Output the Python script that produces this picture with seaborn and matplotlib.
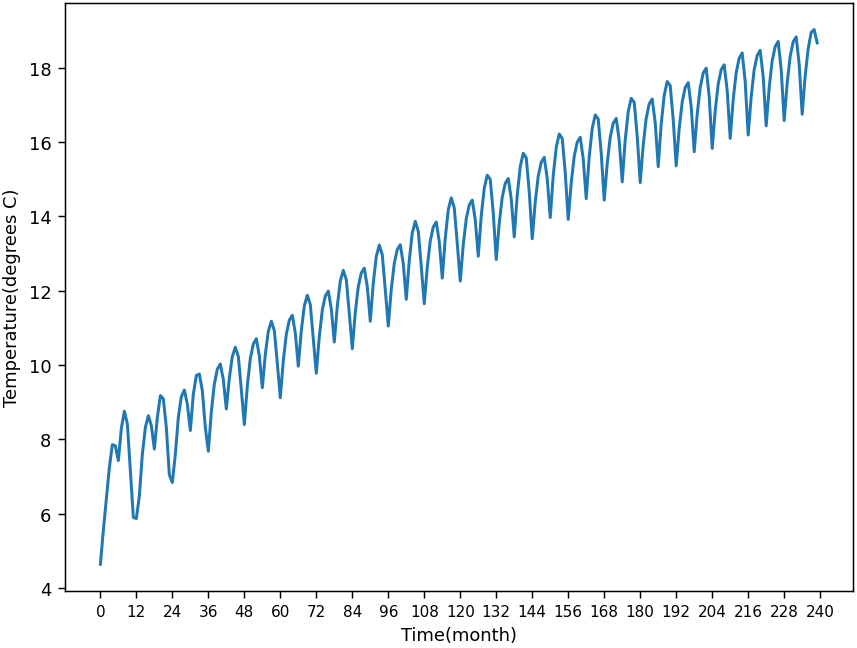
import numpy as np
import pandas as pd
import matplotlib
matplotlib.use("Agg")
import matplotlib.pyplot as plt
import seaborn as sns

# Monthly temperature readings (degrees C), split into 5-year blocks
temp_years_01_05 = [4.64, 5.56, 6.40, 7.24, 7.86, 7.83, 7.43, 8.30, 8.76, 8.42, 7.16, 5.90, 5.87,
                    6.48, 7.60, 8.32, 8.64, 8.37, 7.74, 8.59, 9.18, 9.09, 8.32, 7.05, 6.84,
                    7.60, 8.60, 9.15, 9.33, 8.95, 8.24, 9.22, 9.72, 9.76, 9.31, 8.32, 7.68,
                    8.74, 9.49, 9.89, 10.03, 9.61, 8.82, 9.65, 10.23, 10.48, 10.23, 9.34, 8.40,
                    9.44, 10.18, 10.57, 10.71, 10.25, 9.39, 10.29, 10.91, 11.18, 10.93, 10.05]
temp_years_06_10 = [9.12,
                    10.12, 10.83, 11.21, 11.34, 10.86, 9.97, 10.93, 11.59, 11.88, 11.63, 10.72, 9.78,
                    10.77, 11.48, 11.86, 11.99, 11.51, 10.62, 11.59, 12.26, 12.55, 12.30, 11.39, 10.44,
                    11.42, 12.11, 12.48, 12.61, 12.11, 11.18, 12.21, 12.92, 13.23, 12.97, 12.03, 11.05,
                    12.04, 12.74, 13.11, 13.24, 12.73, 11.77, 12.82, 13.56, 13.87, 13.60, 12.65, 11.65,
                    12.64, 13.34, 13.72, 13.85, 13.32, 12.34, 13.42, 14.18, 14.50, 14.23, 13.27]
temp_years_11_15 = [12.26,
                    13.24, 13.94, 14.31, 14.44, 13.91, 12.93, 14.02, 14.76, 15.11, 15.00, 14.09, 12.84,
                    13.82, 14.52, 14.89, 15.02, 14.47, 13.45, 14.58, 15.34, 15.70, 15.58, 14.66, 13.40,
                    14.39, 15.09, 15.46, 15.59, 15.02, 13.97, 15.10, 15.86, 16.22, 16.10, 15.18, 13.92,
                    14.91, 15.62, 16.00, 16.13, 15.55, 14.48, 15.61, 16.37, 16.73, 16.62, 15.70, 14.44,
                    15.43, 16.13, 16.51, 16.64, 16.04, 14.93, 16.06, 16.82, 17.18, 17.07, 16.16]
temp_years_16_20 = [14.91,
                    15.92, 16.64, 17.03, 17.16, 16.52, 15.34, 16.49, 17.26, 17.63, 17.52, 16.61, 15.36,
                    16.37, 17.08, 17.47, 17.60, 16.95, 15.74, 16.75, 17.47, 17.86, 17.99, 17.23, 15.83,
                    16.84, 17.56, 17.95, 18.08, 17.39, 16.10, 17.14, 17.87, 18.26, 18.40, 17.63, 16.19,
                    17.22, 17.95, 18.33, 18.47, 17.76, 16.44, 17.46, 18.19, 18.57, 18.71, 17.96, 16.58,
                    17.59, 18.31, 18.70, 18.83, 18.10, 16.75, 17.78, 18.51, 18.95, 19.03, 18.67]

x_ticks = list(range(0, 241, 12))

temperature = temp_years_01_05 + temp_years_06_10 + temp_years_11_15 + temp_years_16_20
df = pd.DataFrame({"month": np.arange(len(temperature)), "temp": temperature})

fig = plt.figure(figsize=(6.4, 4.84), dpi=134.06)
ax = fig.add_axes([0.0752, 0.0878, 0.919, 0.9066])
sns.lineplot(data=df, x="month", y="temp", ax=ax, color="#1f77b4", linewidth=1.6)
ax.set_xticks(x_ticks)
ax.set_xticklabels([str(t) for t in x_ticks], family="DejaVu Sans", size=8.2)
ax.tick_params(axis="y", labelsize=9.6)
ax.set_xlabel("Time(month)", fontsize=9.6)
ax.set_ylabel("Temperature(degrees C)", fontsize=9.6)
fig.savefig("out.png", dpi=134.06)
